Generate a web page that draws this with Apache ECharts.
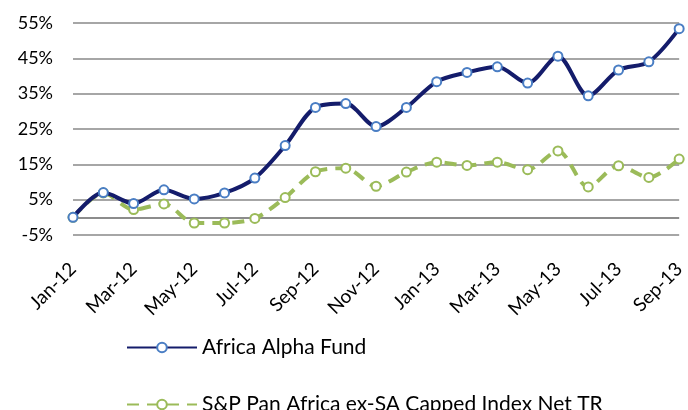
<!DOCTYPE html>
<html>
<head>
<meta charset="utf-8">
<script src="https://cdn.jsdelivr.net/npm/echarts@6/dist/echarts.min.js"></script>
<style>
  html, body { margin: 0; padding: 0; background: #fff; }
  #chart { width: 688px; height: 410px; }
</style>
</head>
<body>
<div id="chart"></div>
<script>
// months Jan-12 .. Sep-13
const months = ['Jan-12', 'Feb-12', 'Mar-12', 'Apr-12', 'May-12', 'Jun-12', 'Jul-12', 'Aug-12', 'Sep-12', 'Oct-12',
  'Nov-12', 'Dec-12', 'Jan-13', 'Feb-13', 'Mar-13', 'Apr-13', 'May-13', 'Jun-13', 'Jul-13', 'Aug-13', 'Sep-13'];

const fund = [0, 7.0, 3.9, 7.8, 5.2, 6.9, 11.1, 20.3, 31.1, 32.2,
  25.7, 31.1, 38.4, 41.0, 42.6, 38.0, 45.6, 34.4, 41.7, 44.0, 53.4];

const index = [0, 6.9, 2.2, 3.8, -1.6, -1.6, -0.3, 5.6, 12.9, 13.9,
  8.8, 12.8, 15.6, 14.7, 15.6, 13.5, 18.8, 8.6, 14.6, 11.3, 16.5];

const yTicks = [-5, 5, 15, 25, 35, 45, 55];

const seriesNames = ['Africa Alpha Fund', 'S&P Pan Africa ex-SA Capped Index Net TR'];

const font = 'Lato, "Open Sans", sans-serif';
const chart = echarts.init(document.getElementById('chart'));

// one legend per row, stacked like the original
const legendBase = {
  left: 121,
  itemWidth: 70,
  itemHeight: 12,
  textStyle: { fontSize: 21, color: '#000', fontFamily: font }
};

chart.setOption({
  animation: false,
  textStyle: { fontFamily: font },
  grid: { left: 73, right: 5, top: 23, bottom: 175 },
  legend: [
    Object.assign({}, legendBase, { top: 332, data: [seriesNames[0]] }),
    Object.assign({}, legendBase, { top: 389, data: [seriesNames[1]] })
  ],
  xAxis: {
    type: 'category',
    data: months,
    boundaryGap: false,
    axisLine: { show: false },
    axisTick: { show: false },
    axisLabel: {
      interval: 1,
      rotate: 45,
      fontSize: 19,
      color: '#000',
      margin: 31
    }
  },
  yAxis: {
    type: 'value',
    min: yTicks[0],
    max: yTicks[yTicks.length - 1],
    interval: 10,
    axisLine: { show: false },
    axisTick: { show: false },
    axisLabel: {
      fontSize: 18,
      color: '#000',
      margin: 20,
      formatter: v => v + '%'
    },
    splitLine: { lineStyle: { color: '#a6a6a6', width: 2 } }
  },
  series: [
    {
      name: seriesNames[0],
      type: 'line',
      data: fund,
      smooth: 0.3,
      symbol: 'circle',
      symbolSize: 9,
      z: 3,
      lineStyle: { color: '#141c6b', width: 4 },
      itemStyle: { color: '#fff', borderColor: '#4a7ec4', borderWidth: 2 },
      markLine: {
        silent: true,
        symbol: 'none',
        label: { show: false },
        lineStyle: { color: '#8c8c8c', width: 2, type: 'solid' },
        data: [{ yAxis: 0 }],
        z: 1
      }
    },
    {
      name: seriesNames[1],
      type: 'line',
      data: index,
      smooth: 0.3,
      symbol: 'circle',
      symbolSize: 9,
      z: 2,
      lineStyle: { color: '#9bbb59', width: 4, type: [12, 8] },
      itemStyle: { color: '#fff', borderColor: '#9bbb59', borderWidth: 2 }
    }
  ]
});
</script>
</body>
</html>
